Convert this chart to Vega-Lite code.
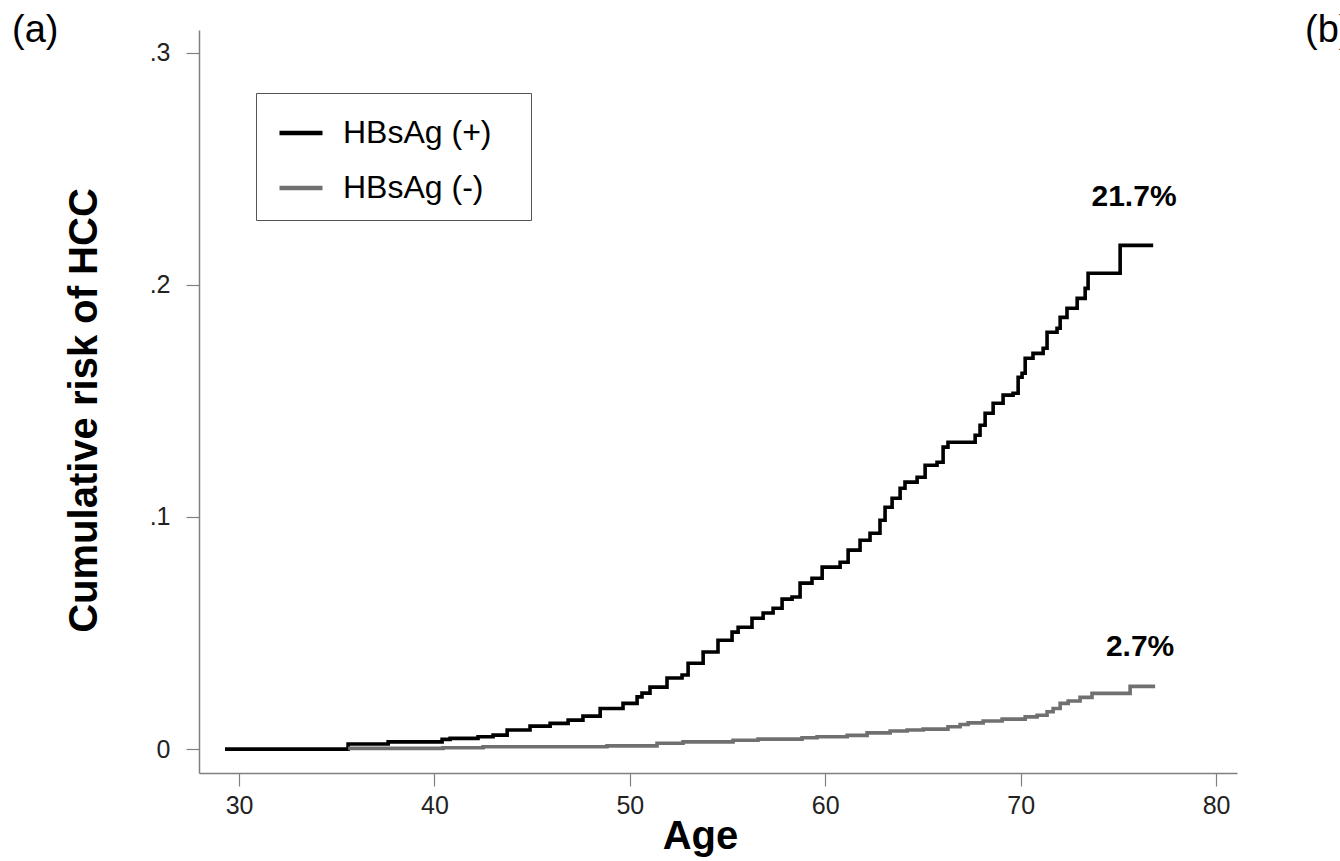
{
  "$schema": "https://vega.github.io/schema/vega-lite/v6.json",
  "width": 1038,
  "height": 743,
  "autosize": {"type": "none"},
  "padding": {"left": 199, "top": 30, "right": 103, "bottom": 88},
  "background": "white",
  "config": {"view": {"stroke": null}},
  "datasets": {
    "curves": [
      {"group": "HBsAg (+)", "age": 29.28, "risk": 0.0},
      {"group": "HBsAg (+)", "age": 35.58, "risk": 0.0022},
      {"group": "HBsAg (+)", "age": 37.63, "risk": 0.0031},
      {"group": "HBsAg (+)", "age": 40.39, "risk": 0.0042},
      {"group": "HBsAg (+)", "age": 40.8, "risk": 0.0046},
      {"group": "HBsAg (+)", "age": 42.23, "risk": 0.0053},
      {"group": "HBsAg (+)", "age": 43.0, "risk": 0.006},
      {"group": "HBsAg (+)", "age": 43.72, "risk": 0.0082},
      {"group": "HBsAg (+)", "age": 44.89, "risk": 0.0099},
      {"group": "HBsAg (+)", "age": 45.92, "risk": 0.0111},
      {"group": "HBsAg (+)", "age": 46.84, "risk": 0.0125},
      {"group": "HBsAg (+)", "age": 47.6, "risk": 0.0142},
      {"group": "HBsAg (+)", "age": 48.48, "risk": 0.0175},
      {"group": "HBsAg (+)", "age": 49.65, "risk": 0.0197},
      {"group": "HBsAg (+)", "age": 50.37, "risk": 0.0225},
      {"group": "HBsAg (+)", "age": 50.62, "risk": 0.0241},
      {"group": "HBsAg (+)", "age": 51.03, "risk": 0.0267},
      {"group": "HBsAg (+)", "age": 51.9, "risk": 0.0306},
      {"group": "HBsAg (+)", "age": 52.67, "risk": 0.0319},
      {"group": "HBsAg (+)", "age": 52.98, "risk": 0.037},
      {"group": "HBsAg (+)", "age": 53.75, "risk": 0.0418},
      {"group": "HBsAg (+)", "age": 54.51, "risk": 0.0469},
      {"group": "HBsAg (+)", "age": 55.23, "risk": 0.0504},
      {"group": "HBsAg (+)", "age": 55.54, "risk": 0.0525},
      {"group": "HBsAg (+)", "age": 56.25, "risk": 0.0564},
      {"group": "HBsAg (+)", "age": 56.82, "risk": 0.0586},
      {"group": "HBsAg (+)", "age": 57.33, "risk": 0.0607},
      {"group": "HBsAg (+)", "age": 57.79, "risk": 0.0646},
      {"group": "HBsAg (+)", "age": 58.3, "risk": 0.0655},
      {"group": "HBsAg (+)", "age": 58.71, "risk": 0.0715},
      {"group": "HBsAg (+)", "age": 59.32, "risk": 0.0736},
      {"group": "HBsAg (+)", "age": 59.84, "risk": 0.0784},
      {"group": "HBsAg (+)", "age": 60.76, "risk": 0.0805},
      {"group": "HBsAg (+)", "age": 61.17, "risk": 0.0857},
      {"group": "HBsAg (+)", "age": 61.78, "risk": 0.09},
      {"group": "HBsAg (+)", "age": 62.29, "risk": 0.093},
      {"group": "HBsAg (+)", "age": 62.8, "risk": 0.0986},
      {"group": "HBsAg (+)", "age": 63.06, "risk": 0.1042},
      {"group": "HBsAg (+)", "age": 63.42, "risk": 0.1081},
      {"group": "HBsAg (+)", "age": 63.83, "risk": 0.1124},
      {"group": "HBsAg (+)", "age": 64.08, "risk": 0.115},
      {"group": "HBsAg (+)", "age": 64.7, "risk": 0.1171},
      {"group": "HBsAg (+)", "age": 65.11, "risk": 0.1223},
      {"group": "HBsAg (+)", "age": 65.72, "risk": 0.1236},
      {"group": "HBsAg (+)", "age": 66.03, "risk": 0.1301},
      {"group": "HBsAg (+)", "age": 66.28, "risk": 0.1322},
      {"group": "HBsAg (+)", "age": 67.67, "risk": 0.1352},
      {"group": "HBsAg (+)", "age": 67.92, "risk": 0.1395},
      {"group": "HBsAg (+)", "age": 68.18, "risk": 0.1447},
      {"group": "HBsAg (+)", "age": 68.59, "risk": 0.149},
      {"group": "HBsAg (+)", "age": 69.1, "risk": 0.1525},
      {"group": "HBsAg (+)", "age": 69.61, "risk": 0.1533},
      {"group": "HBsAg (+)", "age": 69.87, "risk": 0.1602},
      {"group": "HBsAg (+)", "age": 70.07, "risk": 0.1619},
      {"group": "HBsAg (+)", "age": 70.23, "risk": 0.1684},
      {"group": "HBsAg (+)", "age": 70.63, "risk": 0.1705},
      {"group": "HBsAg (+)", "age": 71.15, "risk": 0.1727},
      {"group": "HBsAg (+)", "age": 71.35, "risk": 0.1796},
      {"group": "HBsAg (+)", "age": 71.86, "risk": 0.1813},
      {"group": "HBsAg (+)", "age": 72.02, "risk": 0.186},
      {"group": "HBsAg (+)", "age": 72.37, "risk": 0.1899},
      {"group": "HBsAg (+)", "age": 72.89, "risk": 0.1942},
      {"group": "HBsAg (+)", "age": 73.3, "risk": 0.1985},
      {"group": "HBsAg (+)", "age": 73.45, "risk": 0.205},
      {"group": "HBsAg (+)", "age": 75.09, "risk": 0.217},
      {"group": "HBsAg (+)", "age": 76.78, "risk": 0.217},
      {"group": "HBsAg (-)", "age": 35.58, "risk": 0.0003},
      {"group": "HBsAg (-)", "age": 40.44, "risk": 0.0006},
      {"group": "HBsAg (-)", "age": 42.49, "risk": 0.001},
      {"group": "HBsAg (-)", "age": 48.83, "risk": 0.0014},
      {"group": "HBsAg (-)", "age": 51.39, "risk": 0.0025},
      {"group": "HBsAg (-)", "age": 52.72, "risk": 0.0031},
      {"group": "HBsAg (-)", "age": 55.28, "risk": 0.0038},
      {"group": "HBsAg (-)", "age": 56.56, "risk": 0.0043},
      {"group": "HBsAg (-)", "age": 58.81, "risk": 0.0049},
      {"group": "HBsAg (-)", "age": 59.58, "risk": 0.0053},
      {"group": "HBsAg (-)", "age": 61.12, "risk": 0.0059},
      {"group": "HBsAg (-)", "age": 62.14, "risk": 0.007},
      {"group": "HBsAg (-)", "age": 63.32, "risk": 0.0078},
      {"group": "HBsAg (-)", "age": 64.19, "risk": 0.0082},
      {"group": "HBsAg (-)", "age": 65.01, "risk": 0.0086},
      {"group": "HBsAg (-)", "age": 66.28, "risk": 0.0096},
      {"group": "HBsAg (-)", "age": 66.9, "risk": 0.0106},
      {"group": "HBsAg (-)", "age": 67.31, "risk": 0.0113},
      {"group": "HBsAg (-)", "age": 68.08, "risk": 0.0121},
      {"group": "HBsAg (-)", "age": 69.05, "risk": 0.0129},
      {"group": "HBsAg (-)", "age": 70.23, "risk": 0.0139},
      {"group": "HBsAg (-)", "age": 70.84, "risk": 0.0146},
      {"group": "HBsAg (-)", "age": 71.35, "risk": 0.0161},
      {"group": "HBsAg (-)", "age": 71.66, "risk": 0.0175},
      {"group": "HBsAg (-)", "age": 72.02, "risk": 0.0197},
      {"group": "HBsAg (-)", "age": 72.43, "risk": 0.0207},
      {"group": "HBsAg (-)", "age": 73.04, "risk": 0.0223},
      {"group": "HBsAg (-)", "age": 73.65, "risk": 0.024},
      {"group": "HBsAg (-)", "age": 75.6, "risk": 0.027},
      {"group": "HBsAg (-)", "age": 76.88, "risk": 0.027}
    ],
    "pct": [
      {"age": 75.8, "risk": 0.2377, "label": "21.7%"},
      {"age": 76.11, "risk": 0.0439, "label": "2.7%"}
    ],
    "panels": [
      {"age": 18.38, "risk": 0.3092, "label": "(a)"},
      {"age": 84.55, "risk": 0.3092, "label": "(b)"}
    ]
  },
  "encoding": {
    "x": {
      "field": "age",
      "type": "quantitative",
      "scale": {"domain": [27.95, 81.07], "nice": false, "zero": false},
      "axis": {
        "title": "Age",
        "values": [30, 40, 50, 60, 70, 80],
        "grid": false,
        "domainColor": "#808080",
        "domainWidth": 1.5,
        "tickColor": "#808080",
        "tickWidth": 1.2,
        "tickSize": 13,
        "labelFont": "Liberation Sans",
        "labelFontSize": 25,
        "labelColor": "#222222",
        "labelPadding": 7,
        "titleFont": "Liberation Sans",
        "titleFontWeight": "bold",
        "titleFontSize": 40,
        "titleColor": "#000000",
        "titleX": 501,
        "titleY": 75,
        "titleBaseline": "alphabetic",
        "titleAnchor": null
      }
    },
    "y": {
      "field": "risk",
      "type": "quantitative",
      "scale": {"domain": [-0.0103, 0.3098], "nice": false, "zero": false},
      "axis": {
        "title": "Cumulative risk of HCC",
        "values": [0, 0.1, 0.2, 0.3],
        "labelExpr": "datum.value == 0 ? '0' : replace(format(datum.value, '.1f'), '0.', '.')",
        "grid": false,
        "domainColor": "#808080",
        "domainWidth": 1.5,
        "tickColor": "#808080",
        "tickWidth": 1.2,
        "tickSize": 13,
        "labelFont": "Liberation Sans",
        "labelFontSize": 25,
        "labelColor": "#222222",
        "labelPadding": 16,
        "titleFont": "Liberation Sans",
        "titleFontWeight": "bold",
        "titleFontSize": 40,
        "titleColor": "#000000",
        "titleX": -115,
        "titleY": 380,
        "titleAlign": "center",
        "titleBaseline": "middle",
        "titleAngle": 270
      }
    }
  },
  "layer": [
    {
      "data": {"name": "curves"},
      "mark": {"type": "line", "interpolate": "step-after", "strokeWidth": 3.6},
      "encoding": {
        "color": {
          "field": "group",
          "type": "nominal",
          "scale": {"domain": ["HBsAg (+)", "HBsAg (-)"], "range": ["#000000", "#707070"]},
          "legend": {
            "orient": "none",
            "legendX": 57,
            "legendY": 63,
            "title": null,
            "strokeColor": "#555555",
            "fillColor": "#ffffff",
            "padding": 16,
            "symbolOffset": 5,
            "symbolType": "stroke",
            "symbolSize": 1849,
            "symbolStrokeWidth": 4.5,
            "labelFont": "Liberation Sans",
            "labelFontSize": 32,
            "labelColor": "#000000",
            "labelOffset": 18,
            "labelLimit": 400,
            "rowPadding": 15,
            "labelExpr": "datum.label + '\u2800'"
          }
        }
      }
    },
    {
      "data": {"name": "pct"},
      "mark": {"type": "text", "font": "Liberation Sans", "fontWeight": "bold", "fontSize": 30, "align": "center", "baseline": "middle", "color": "#000000"},
      "encoding": {"text": {"field": "label"}}
    },
    {
      "data": {"name": "panels"},
      "mark": {"type": "text", "font": "Liberation Sans", "fontSize": 38, "align": "left", "baseline": "middle", "color": "#000000"},
      "encoding": {"text": {"field": "label"}}
    }
  ]
}
